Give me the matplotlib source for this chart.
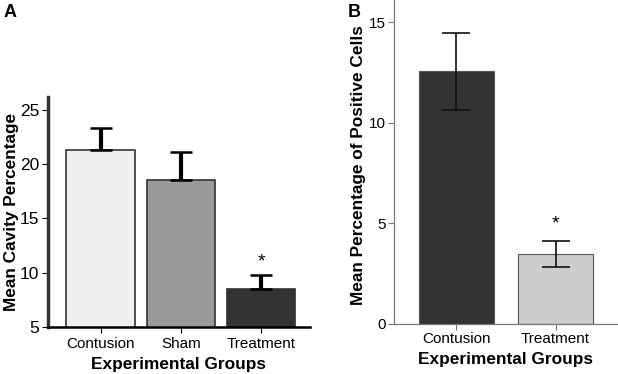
import matplotlib
matplotlib.use('Agg')
import matplotlib.pyplot as plt
import numpy as np

plt.rcParams['font.family'] = ['Liberation Sans', 'DejaVu Sans']

# panel A
groups_a = ['Contusion', 'Sham', 'Treatment']
cavity = [21.3, 18.5, 8.5]
cavity_err = [2.05, 2.6, 1.3]
colors_a = ['#efefef', '#9a9a9a', '#333333']

# panel B
groups_b = ['Contusion', 'Treatment']
positive = [12.55, 3.48]
positive_err = [1.9, 0.64]
colors_b = ['#333333', '#cccccc']

fig = plt.figure(figsize=(6.18, 3.74), dpi=100)

axA = fig.add_axes([0.077, 0.126, 0.425, 0.615])
xa = np.arange(len(groups_a))
axA.bar(xa, cavity, width=0.85, bottom=0, color=colors_a, edgecolor='#333333', linewidth=1.2)
axA.errorbar(xa, cavity, yerr=[np.zeros(len(cavity)), cavity_err], fmt='none',
             ecolor='black', elinewidth=3, capsize=8, capthick=1.8)
axA.text(xa[2], cavity[2] + cavity_err[2] + 0.4, '*', ha='center', va='bottom', fontsize=14)
axA.set_ylim(5, 26.2)
axA.set_xlim(-0.66, 2.61)
axA.set_yticks([5, 10, 15, 20, 25])
axA.set_xticks(xa)
axA.set_xticklabels(groups_a)
axA.set_ylabel('Mean Cavity Percentage', fontsize=12.4, fontweight='bold')
axA.yaxis.set_label_coords(-0.108, 0.5)
axA.set_xlabel('Experimental Groups', fontsize=12.4, fontweight='bold')
for s in ['top', 'right']:
    axA.spines[s].set_visible(False)
axA.spines['left'].set_linewidth(2.5)
axA.spines['bottom'].set_linewidth(1.8)
axA.spines['left'].set_color('#333333')
axA.tick_params(axis='x', labelsize=11, length=4)
axA.tick_params(axis='y', labelsize=12.5, length=4, pad=2)
fig.text(0.005, 0.99, 'A', fontsize=13, fontweight='bold', va='top')

axB = fig.add_axes([0.6375, 0.134, 0.3625, 0.866])
xb = np.arange(len(groups_b))
axB.bar(xb, positive, width=0.76, color=colors_b, edgecolor='#555555', linewidth=0.8)
axB.errorbar(xb, positive, yerr=positive_err, fmt='none', ecolor='#111111',
             elinewidth=1.2, capsize=10, capthick=1.2)
axB.text(xb[1], positive[1] + positive_err[1] + 0.4, '*', ha='center', va='bottom', fontsize=14)
axB.set_ylim(0, 16.1)
axB.set_xlim(-0.63, 1.63)
axB.set_yticks([0, 5, 10, 15])
axB.set_xticks(xb)
axB.set_xticklabels(groups_b)
axB.set_ylabel('Mean Percentage of Positive Cells', fontsize=12.4, fontweight='bold')
axB.yaxis.set_label_coords(-0.125, 0.49)
axB.set_xlabel('Experimental Groups', fontsize=12.4, fontweight='bold')
for s in ['top', 'right']:
    axB.spines[s].set_visible(False)
for s in ['left', 'bottom']:
    axB.spines[s].set_color('#777777')
    axB.spines[s].set_linewidth(0.9)
axB.tick_params(labelsize=11, length=4, pad=2, color='#777777')
fig.text(0.563, 0.99, 'B', fontsize=13, fontweight='bold', va='top')

plt.savefig('out.png', dpi=100)
